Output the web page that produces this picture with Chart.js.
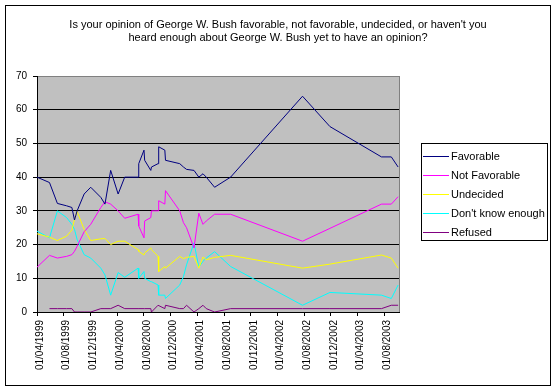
<!DOCTYPE html>
<html>
<head>
<meta charset="utf-8">
<script src="https://cdn.jsdelivr.net/npm/chart.js@4/dist/chart.umd.min.js"></script>
<style>
    html, body { margin: 0; padding: 0; background: #ffffff; }
    #wrap { width: 557px; height: 391px; }
</style>
</head>
<body>
<div id="wrap"><canvas id="bushChart" width="557" height="391"></canvas></div>
<script>
// Poll dates and results (percent)
const pollDates = [
    '1999-04-01', '1999-05-28', '1999-07-03', '1999-08-14', '1999-09-07',
    '1999-09-19', '1999-10-01', '1999-11-02', '1999-12-02', '2000-01-17',
    '2000-02-05', '2000-03-02', '2000-04-05', '2000-05-05', '2000-07-05',
    '2000-07-08', '2000-08-01', '2000-08-04', '2000-09-01', '2000-09-04',
    '2000-10-04', '2000-10-07', '2000-11-04', '2000-11-07', '2001-01-11',
    '2001-01-28', '2001-02-11', '2001-03-17', '2001-04-08', '2001-04-27',
    '2001-05-12', '2001-06-19', '2001-08-31', '2002-07-25', '2002-11-27',
    '2003-07-20', '2003-09-03', '2003-10-04'
];

const favorable = [
    40, 38.4, 32.2, 31.5, 31, 27.3, 30, 35, 37, 34,
    32, 42, 35, 40, 40, 44, 48, 45, 42, 43,
    44, 49, 48, 45, 44, 43, 42.3, 42, 40, 41,
    40, 37, 40, 64, 55, 46, 46, 43
];

const notFavorable = [
    13.3, 16.8, 16, 16.5, 17, 18, 19.5, 23.8, 26, 31,
    32.7, 32, 30, 27.8, 29, 25.5, 22, 27, 28, 30,
    30, 33, 32, 36, 30, 26.5, 25, 19, 29.3, 26,
    27, 29, 29, 21, 24.8, 32, 32, 34.2
];

const undecided = [
    23.2, 22.2, 21.2, 22.5, 24.3, 27.5, 29.8, 24.5, 21.2, 21.7,
    21.8, 20, 21, 21, 18.5, 18, 16.9, 17.5, 19, 18.5,
    16.5, 12, 13.5, 13, 16.5, 15.8, 16.2, 16.5, 13, 16.3,
    15.5, 16.2, 16.8, 13, 14.2, 16.9, 16, 13
];

const dontKnowEnough = [
    24, 22, 30, 28, 26, 24.5, 21.5, 17, 16, 13,
    11, 5, 11.7, 10.3, 13, 10, 12, 10, 9, 9,
    8, 5, 5, 4, 8, 10.5, 14, 20.5, 13.3, 15,
    16, 17.9, 13.5, 2, 5.8, 5, 4, 8
];

const refused = [
    null, 1, 1, 1, 1, 0, 0, 0, 0, 1,
    1, 1, 2, 1, 1, 1, 1, 1, 1, 0,
    2, 2, 1, 2, 1, 1, 2, 0, 1, 2,
    1, 0, 1, 1, 1, 1, 2, 2
];

const seriesNames = ['Favorable', 'Not Favorable', 'Undecided', "Don't know enough", 'Refused'];
const seriesColors = ['#000080', '#ff00ff', '#ffff00', '#00ffff', '#800080'];

const tickLabels = [
    '01/04/1999', '01/08/1999', '01/12/1999', '01/04/2000', '01/08/2000',
    '01/12/2000', '01/04/2001', '01/08/2001', '01/12/2001', '01/04/2002',
    '01/08/2002', '01/12/2002', '01/04/2003', '01/08/2003'
];

const titleLines = [
    "Is your opinion of George W. Bush favorable, not favorable, undecided, or haven't you",
    'heard enough about George W. Bush yet to have an opinion?'
];

const FONT = '"Liberation Sans", Arial, sans-serif';

// days since epoch, from 'YYYY-MM-DD'
function isoToDay(s) {
    const p = s.split('-').map(Number);
    return Date.UTC(p[0], p[1] - 1, p[2]) / 86400000;
}

// days since epoch, from 'DD/MM/YYYY'
function labelToDay(s) {
    const p = s.split('/').map(Number);
    return Date.UTC(p[2], p[1] - 1, p[0]) / 86400000;
}

const xDays = pollDates.map(isoToDay);
const tickValues = tickLabels.map(labelToDay);

function toPoints(values) {
    return values.map((v, i) => ({ x: xDays[i], y: v }));
}

/**
 * Background, frame, plot area, title and legend (Excel look)
 */
const excelFrame = {
    id: 'excelFrame',
    beforeDraw(chart) {
        const c = chart.ctx;
        const a = chart.chartArea;
        c.save();
        c.fillStyle = '#ffffff';
        c.fillRect(0, 0, chart.width, chart.height);
        c.strokeStyle = '#000000';
        c.lineWidth = 1;
        c.strokeRect(5.5, 5.5, 545, 380);
        c.fillStyle = '#c0c0c0';
        c.fillRect(a.left, a.top, a.right - a.left, a.bottom - a.top);
        c.strokeStyle = '#808080';
        c.strokeRect(a.left + 0.5, a.top + 0.5, a.right - a.left, a.bottom - a.top);
        c.restore();
    },
    afterDraw(chart) {
        const c = chart.ctx;
        c.save();
        // title
        c.fillStyle = '#000000';
        c.font = '11px ' + FONT;
        c.textAlign = 'center';
        c.textBaseline = 'middle';
        titleLines.forEach((line, i) => {
            c.fillText(line, 278, 25 + i * 13);
        });

        // legend
        c.fillStyle = '#ffffff';
        c.fillRect(421, 143, 126, 98);
        c.strokeStyle = '#000000';
        c.lineWidth = 1;
        c.strokeRect(421.5, 143.5, 126, 97);
        c.textAlign = 'left';
        seriesNames.forEach((name, i) => {
            const y = 156 + i * 19;
            c.strokeStyle = seriesColors[i];
            c.beginPath();
            c.moveTo(423, y + 0.5);
            c.lineTo(449, y + 0.5);
            c.stroke();
            c.fillStyle = '#000000';
            c.fillText(name, 451, y + 1);
        });
        c.restore();
    }
};

const seriesValues = [favorable, notFavorable, undecided, dontKnowEnough, refused];

const ctx = document.getElementById('bushChart');
const bushChart = new Chart(ctx, {
    type: 'line',
    data: {
        datasets: seriesValues.map((vals, i) => ({
            label: seriesNames[i],
            data: toPoints(vals),
            borderColor: seriesColors[i],
            backgroundColor: seriesColors[i],
            borderWidth: 1,
            pointRadius: 0,
            tension: 0,
            fill: false
        }))
    },
    options: {
        responsive: false,
        animation: false,
        layout: {
            padding: { left: 0, top: 76, right: 158, bottom: 0 }
        },
        plugins: {
            legend: { display: false },
            title: { display: false },
            tooltip: { enabled: false }
        },
        scales: {
            x: {
                type: 'linear',
                min: isoToDay('1999-04-01'),
                max: isoToDay('2003-10-08'),
                afterBuildTicks: function(scale) {
                    scale.ticks = tickValues.map(v => ({ value: v }));
                },
                afterFit: function(scale) {
                    scale.height = 79;
                },
                ticks: {
                    autoSkip: false,
                    maxRotation: 90,
                    minRotation: 90,
                    padding: 4,
                    labelOffset: 3,
                    color: '#000000',
                    font: { size: 10, family: FONT },
                    callback: function(value, index) {
                        return tickLabels[index];
                    }
                },
                grid: {
                    drawOnChartArea: false,
                    drawTicks: true,
                    tickLength: 4,
                    tickColor: '#000000'
                },
                border: { color: '#000000' }
            },
            y: {
                min: 0,
                max: 70,
                afterFit: function(scale) {
                    scale.width = 37;
                },
                ticks: {
                    stepSize: 10,
                    padding: 6,
                    color: '#000000',
                    font: { size: 10, family: FONT }
                },
                grid: {
                    color: function(context) {
                        return context.tick && context.tick.value === 70 ? '#808080' : '#000000';
                    },
                    tickColor: '#000000',
                    tickLength: 4
                },
                border: { color: '#000000' }
            }
        }
    },
    plugins: [excelFrame]
});
</script>
</body>
</html>
